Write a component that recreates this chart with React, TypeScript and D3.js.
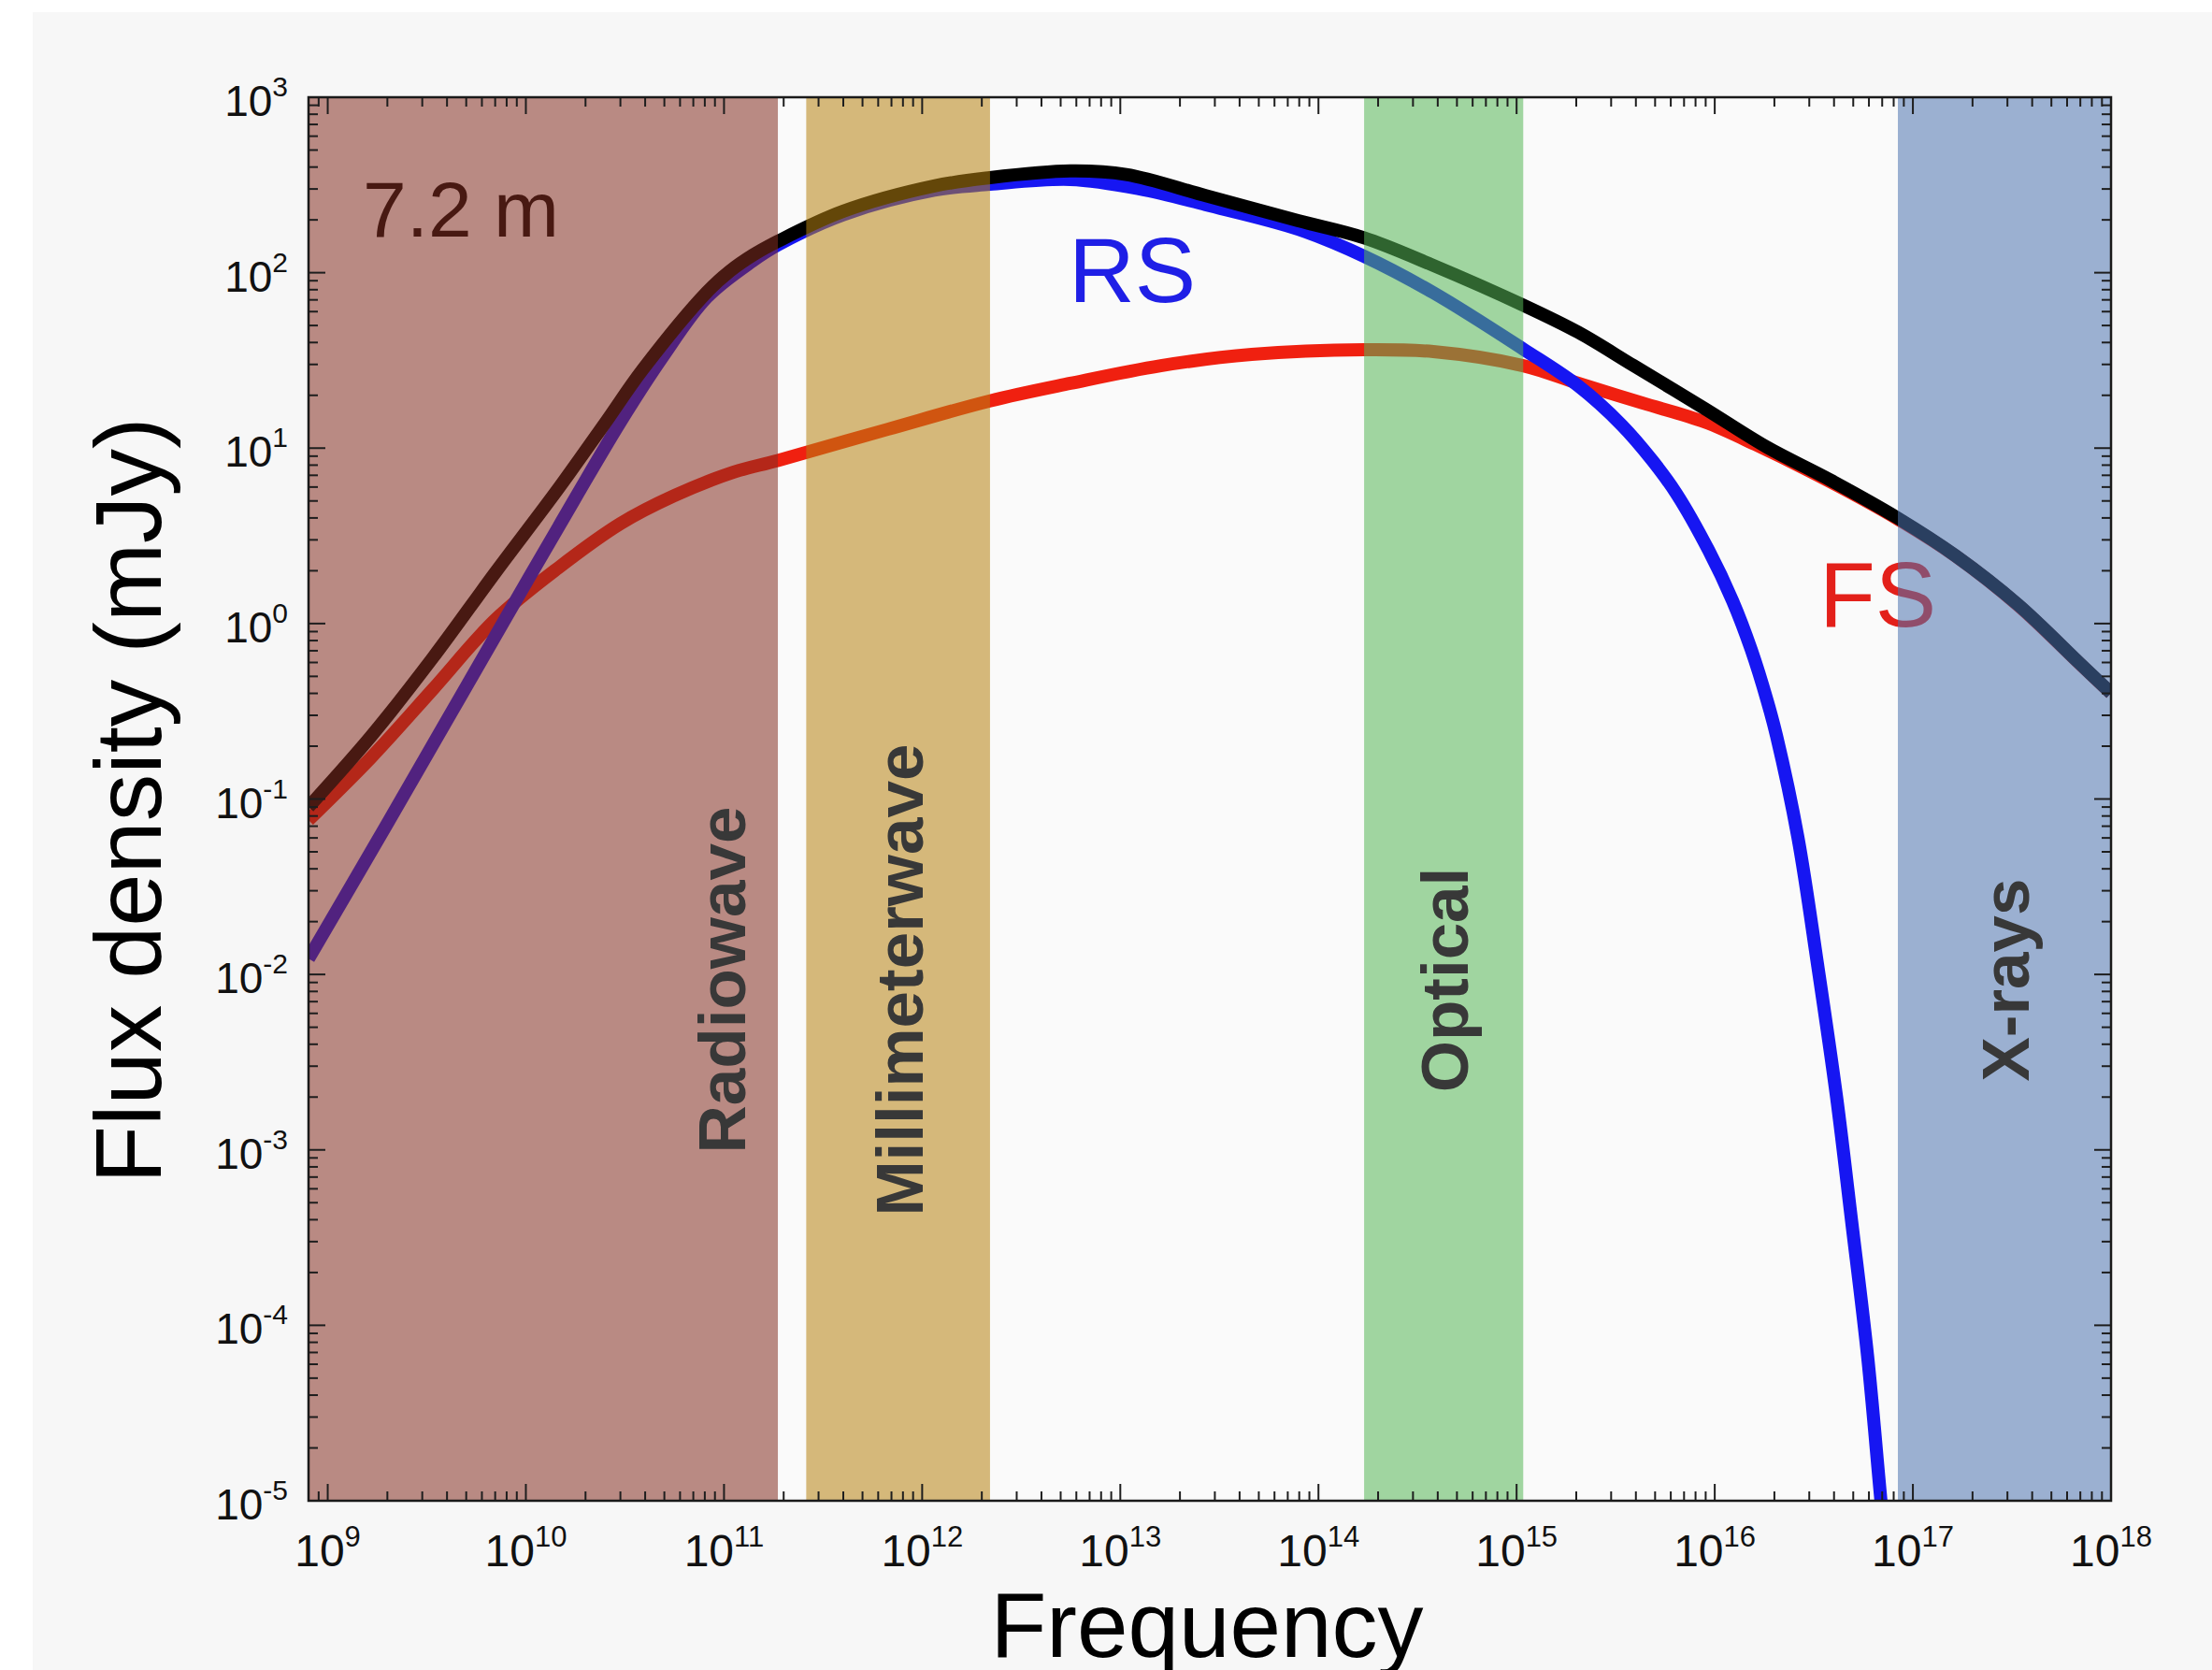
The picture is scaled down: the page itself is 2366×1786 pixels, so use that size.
import * as d3 from "d3";

const WIDTH = 2366;
const HEIGHT = 1786;
const PLOT = { left: 330, top: 104, right: 2258, bottom: 1605 };
const FONT = "'Liberation Sans', Arial, Helvetica, sans-serif";

// values: frequency in Hz, flux density in mJy
const totalNu = [8e8, 1.66e9, 3.4e9, 7.0e9, 1.46e10, 2.5e10, 3.9e10, 8.2e10, 1.07e11, 1.4e11, 1.87e11, 4.0e11, 1.15e12, 2.2e12, 5.6e12, 1.07e13, 2.7e13, 7.9e13, 1.7e14, 3.8e14, 1.08e15, 2.05e15, 3.9e15, 8.9e15, 1.84e16, 3.8e16, 8.4e16, 1.64e17, 3.4e17, 7.0e17, 1e18];
const totalFlux = [0.09, 0.229, 0.641, 1.95, 5.89, 13.8, 28.2, 77.6, 102, 126, 151, 224, 312, 348, 380, 363, 275, 198, 158, 110, 65.3, 45.7, 29.5, 16.8, 10.1, 6.61, 3.99, 2.44, 1.28, 0.589, 0.402];

const rsNu = [8e8, 2.0e9, 4.0e9, 7.9e9, 1.46e10, 3.0e10, 4.9e10, 8.2e10, 1.4e11, 1.87e11, 4.0e11, 1.15e12, 2.2e12, 5.6e12, 1.24e13, 2.7e13, 7.9e13, 1.7e14, 3.8e14, 1.08e15, 2.05e15, 3.4e15, 4.84e15, 6.41e15, 9.29e15, 1.23e16, 1.53e16, 1.84e16, 2.05e16, 2.63e16, 3.31e16, 4.12e16, 4.9e16, 5.9e16, 6.9e16, 7.9e16];
const rsFlux = [0.0123, 0.0724, 0.282, 1.07, 3.55, 14.1, 33.1, 72.4, 117, 144, 214, 295, 319, 340, 301, 244, 177, 124, 76.9, 36.7, 22.6, 13.5, 8.51, 5.5, 2.63, 1.35, 0.708, 0.363, 0.229, 0.0603, 0.0112, 0.002, 3.98e-4, 6.76e-5, 1.0e-5, 2.0e-6];

const fsNu = [8e8, 1.66e9, 3.4e9, 7.0e9, 1.46e10, 3.0e10, 5.6e10, 1.12e11, 1.87e11, 6.7e11, 2.2e12, 5.6e12, 1.6e13, 4.6e13, 1.7e14, 3.8e14, 1.08e15, 2.05e15, 4.3e15, 8.9e15, 1.6e16, 3.8e16, 8.4e16, 1.64e17, 3.4e17, 7.0e17, 1e18];
const fsFlux = [0.0759, 0.173, 0.423, 1.05, 2.08, 3.71, 5.35, 7.3, 8.51, 12.8, 18.6, 23.4, 29.5, 34.2, 36.4, 35.5, 29.5, 23.4, 18.1, 14.1, 10.5, 6.46, 3.94, 2.43, 1.27, 0.586, 0.4];

const bandNames = ["Radiowave", "Millimeterwave", "Optical", "X-rays"];
const bandLo = [5e8, 2.6e11, 1.7e14, 8.4e16];
const bandHi = [1.87e11, 2.2e12, 1.08e15, 1e18];
const bandColors = ["#842e20", "#b78211", "#55b755", "#4d73ae"];

const xTickExp = [9, 10, 11, 12, 13, 14, 15, 16, 17, 18];
const yTickExp = [-5, -4, -3, -2, -1, 0, 1, 2, 3];

const x = d3.scaleLog().domain([8e8, 1e18]).range([PLOT.left, PLOT.right]);
const y = d3.scaleLog().domain([1e-5, 1e3]).range([PLOT.bottom, PLOT.top]);

const line = d3
  .line<[number, number]>()
  .x((d) => x(d[0]))
  .y((d) => y(d[1]))
  .curve(d3.curveCatmullRom.alpha(0.5));

const pathOf = (nu: number[], flux: number[]) =>
  line(nu.map((n, i) => [n, flux[i]] as [number, number])) || "";

const isPow = (v: number) => Math.abs(Math.log10(v) - Math.round(Math.log10(v))) < 1e-6;

const App = () => {
  const xTicks = x.ticks(20);
  const yTicks = y.ticks(20);
  const tickColor = "#1e1e1e";

  return (
    <svg
      width={WIDTH}
      height={HEIGHT}
      style={{ position: "absolute", left: 0, top: 0, display: "block" }}
      fontFamily={FONT}
    >
      <defs>
        <clipPath id="plot-clip">
          <rect x={PLOT.left} y={PLOT.top} width={PLOT.right - PLOT.left} height={PLOT.bottom - PLOT.top} />
        </clipPath>
      </defs>

      <rect x={0} y={0} width={WIDTH} height={HEIGHT} fill="#ffffff" />
      <rect x={35} y={13} width={WIDTH - 35} height={HEIGHT - 13} fill="#f7f7f7" />
      <rect x={PLOT.left} y={PLOT.top} width={PLOT.right - PLOT.left} height={PLOT.bottom - PLOT.top} fill="#fafafa" />

      {/* annotations sit under the coloured bands */}
      <text x={388} y={253} fontSize={84} fill="#000">7.2 m</text>
      <text x={1143} y={323} fontSize={98} fill="#1f1fe6">RS</text>
      <text x={1946} y={670} fontSize={98} fill="#e3201a">FS</text>

      <g clipPath="url(#plot-clip)" fill="none" strokeWidth={14} strokeLinejoin="round">
        <path d={pathOf(fsNu, fsFlux)} stroke="#f02010" />
        <path d={pathOf(rsNu, rsFlux)} stroke="#1616f2" />
        <path d={pathOf(totalNu, totalFlux)} stroke="#000000" />
      </g>

      <g clipPath="url(#plot-clip)">
        {bandNames.map((name, i) => {
          const x0 = Math.max(x(bandLo[i]), PLOT.left);
          const x1 = Math.min(x(bandHi[i]), PLOT.right);
          return (
            <rect
              key={name}
              x={x0}
              y={PLOT.top}
              width={x1 - x0}
              height={PLOT.bottom - PLOT.top}
              fill={bandColors[i]}
              fillOpacity={0.55}
            />
          );
        })}
      </g>

      {bandNames.map((name, i) => {
        const x0 = Math.max(x(bandLo[i]), PLOT.left);
        const x1 = Math.min(x(bandHi[i]), PLOT.right);
        const bx = i === 0 ? x1 - 35 : (x0 + x1) / 2 + 26;
        return (
          <text
            key={name}
            transform={`translate(${bx},1048) rotate(-90)`}
            textAnchor="middle"
            fontSize={71}
            fontWeight="bold"
            fill="#383838"
          >
            {name}
          </text>
        );
      })}

      {/* ticks on all four sides, pointing in */}
      <g stroke={tickColor} strokeWidth={2}>
        {xTicks.map((t, i) => {
          const len = isPow(t) ? 18 : 10;
          const px = x(t);
          if (px < PLOT.left || px > PLOT.right) return null;
          return (
            <g key={"xt" + i}>
              <line x1={px} x2={px} y1={PLOT.bottom} y2={PLOT.bottom - len} />
              <line x1={px} x2={px} y1={PLOT.top} y2={PLOT.top + len} />
            </g>
          );
        })}
        {yTicks.map((t, i) => {
          const len = isPow(t) ? 18 : 10;
          const py = y(t);
          return (
            <g key={"yt" + i}>
              <line x1={PLOT.left} x2={PLOT.left + len} y1={py} y2={py} />
              <line x1={PLOT.right} x2={PLOT.right - len} y1={py} y2={py} />
            </g>
          );
        })}
      </g>

      <rect
        x={PLOT.left}
        y={PLOT.top}
        width={PLOT.right - PLOT.left}
        height={PLOT.bottom - PLOT.top}
        fill="none"
        stroke="#1a1a1a"
        strokeWidth={2.5}
      />

      {xTickExp.map((e) => (
        <text key={"xl" + e} x={x(Math.pow(10, e))} y={PLOT.bottom + 70} textAnchor="middle" fontSize={48} fill="#111">
          <tspan>10</tspan>
          <tspan dy={-21} fontSize={31}>{e}</tspan>
        </text>
      ))}
      {yTickExp.map((e) => (
        <text key={"yl" + e} x={PLOT.left - 22} y={y(Math.pow(10, e)) + 20} textAnchor="end" fontSize={46} fill="#111">
          <tspan>10</tspan>
          <tspan dy={-21} fontSize={30}>{e}</tspan>
        </text>
      ))}

      <text x={1291} y={1772} textAnchor="middle" fontSize={98} fill="#000">Frequency</text>
      <text transform="translate(172,856) rotate(-90)" textAnchor="middle" fontSize={101} fill="#000">
        Flux density (mJy)
      </text>
    </svg>
  );
};

export default App;
